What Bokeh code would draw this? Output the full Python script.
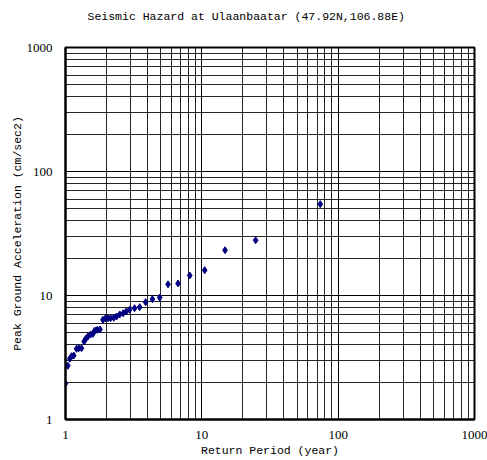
from bokeh.plotting import figure
from bokeh.models import FixedTicker, ColumnDataSource, Title
from bokeh.embed import file_html
from bokeh.resources import INLINE

title_text = "Seismic Hazard at Ulaanbaatar (47.92N,106.88E)"
x_label = "Return Period (year)"
y_label = "Peak Ground Acceleration (cm/sec2)"

return_period = [1.00, 1.04, 1.075, 1.107, 1.15, 1.205, 1.25, 1.31, 1.37, 1.41,
                 1.46, 1.53, 1.59, 1.64, 1.71, 1.79, 1.88, 1.96, 2.05, 2.14,
                 2.26, 2.37, 2.50, 2.65, 2.79, 2.95, 3.21, 3.50, 3.87, 4.34,
                 4.91, 5.65, 6.69, 8.15, 10.5, 14.8, 24.8, 73.9]
pga = [1.95, 2.71, 3.09, 3.24, 3.28, 3.72, 3.76, 3.76, 4.26, 4.48,
       4.67, 4.85, 4.91, 5.22, 5.29, 5.32, 6.37, 6.53, 6.56, 6.56,
       6.61, 6.77, 7.03, 7.20, 7.43, 7.67, 7.90, 8.05, 8.83, 9.34,
       9.63, 12.3, 12.5, 14.5, 16.0, 23.2, 27.9, 54.5]

major_ticks = [1, 10, 100, 1000]
minor_ticks = [m * d for d in [1, 10, 100] for m in range(2, 10)]

p = figure(width=487, height=460, x_axis_type="log", y_axis_type="log",
           x_range=(1, 1000), y_range=(1, 1000),
           output_backend="svg", toolbar_location=None,
           min_border_left=65, min_border_right=13,
           min_border_bottom=41, min_border_top=47)

p.title = None
spacer = Title(text=" ", text_font="Liberation Mono", text_font_size="11.5px",
               standoff=10)
p.add_layout(spacer, "above")
main_title = Title(text=title_text, text_font="Liberation Mono",
                   text_font_size="11.5px", text_font_style="normal",
                   align="left", offset=22, standoff=0, text_color="black")
p.add_layout(main_title, "above")

for ax in (p.xaxis, p.yaxis):
    ax.ticker = FixedTicker(ticks=major_ticks, minor_ticks=minor_ticks)
    ax.major_tick_line_color = None
    ax.minor_tick_line_color = None
    ax.axis_line_color = "black"
    ax.axis_line_width = 2
    ax.major_label_text_font = "Liberation Serif"
    ax.major_label_text_font_size = "13px"
    ax.major_label_text_color = "black"
    ax.axis_label_text_font = "Liberation Mono"
    ax.axis_label_text_font_size = "11.5px"
    ax.axis_label_text_font_style = "normal"
    ax.axis_label_text_color = "black"

p.xaxis.axis_label = x_label
p.yaxis.axis_label = y_label
p.xaxis.major_label_standoff = 5
p.yaxis.major_label_standoff = 7
p.xaxis.axis_label_standoff = 2
p.yaxis.axis_label_standoff = 0
p.xaxis.major_label_overrides = {1: "1", 10: "10", 100: "100", 1000: "1000"}
p.yaxis.major_label_overrides = {1: "1", 10: "10", 100: "100", 1000: "1000"}

for g in (p.xgrid, p.ygrid):
    g.ticker = FixedTicker(ticks=major_ticks, minor_ticks=minor_ticks)
    g.grid_line_color = "black"
    g.grid_line_width = 1
    g.grid_line_alpha = 1.0
    g.minor_grid_line_color = "black"
    g.minor_grid_line_width = 1
    g.minor_grid_line_alpha = 0.85

p.outline_line_color = "black"
p.outline_line_width = 2
p.background_fill_color = "white"
p.border_fill_color = "white"

src = ColumnDataSource(dict(x=return_period, y=pga))
p.scatter("x", "y", source=src, marker="diamond", size=7,
          fill_color="#000080", line_color="#000080")

open("out.html", "w").write(file_html(p, INLINE))
